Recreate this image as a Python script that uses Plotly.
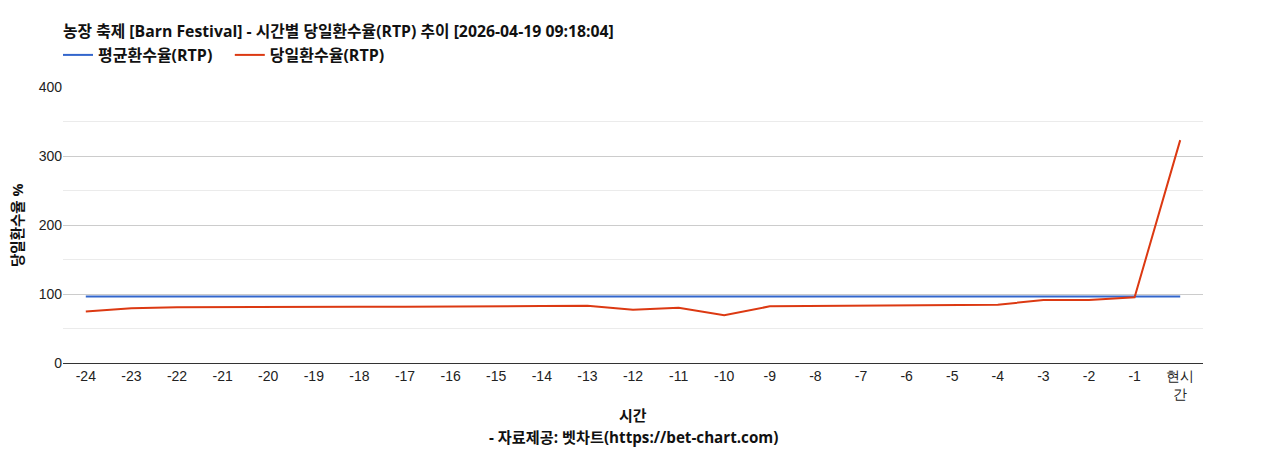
import plotly.graph_objects as go

# 시간 구간 (x축 라벨)
hours = ["-24", "-23", "-22", "-21", "-20", "-19", "-18", "-17", "-16", "-15",
         "-14", "-13", "-12", "-11", "-10", "-9", "-8", "-7", "-6", "-5",
         "-4", "-3", "-2", "-1", "현시<br>간"]

avg_rtp = [96.2] * 25
day_rtp = [74.5, 79.3, 80.8, 81.2, 81.6, 81.6, 81.6, 81.6, 81.6, 81.8,
           82.6, 83.0, 77.2, 80.1, 69.1, 82.1, 82.4, 83.0, 83.0, 83.4,
           84.5, 91.2, 91.4, 95.2, 323.0]

font_main = "Open Sans, Noto Sans CJK KR, Arial"
font_tick = "Liberation Sans, Arial"

fig = go.Figure()
fig.add_trace(go.Scatter(x=hours, y=avg_rtp, mode="lines",
                         name="<b>평균환수율(RTP)</b>&nbsp;&nbsp;&nbsp;",
                         line=dict(color="#3366cc", width=2)))
fig.add_trace(go.Scatter(x=hours, y=day_rtp, mode="lines", name="<b>당일환수율(RTP)</b>",
                         line=dict(color="#dc3912", width=2)))

# page body has an 8px margin, so margins are shifted to compensate
fig.update_layout(
    width=1268, height=450,
    paper_bgcolor="white", plot_bgcolor="white",
    margin=dict(l=55, r=73, t=79, b=95),
    font=dict(family=font_tick, size=14, color="#222222"),
    title=dict(text="<b>농장 축제 [Barn Festival] - 시간별 당일환수율(RTP) 추이 [2026-04-19 09:18:04]</b>",
               x=55 / 1268, xanchor="left", y=1 - 23 / 450, yanchor="middle",
               font=dict(family=font_main, size=15.8, color="#111111")),
    legend=dict(orientation="h", x=-5 / 1140, xanchor="left",
                y=1 + 32 / 276, yanchor="middle",
                font=dict(family=font_main, size=16, color="#111111"),
                traceorder="normal"),
    showlegend=True,
    xaxis=dict(type="category", range=[-0.5, 24.5], showgrid=False,
               showline=True, linecolor="#333333", linewidth=1,
               ticks="", tickfont=dict(size=14, color="#222222")),
    yaxis=dict(range=[0, 400], dtick=100, showgrid=True, gridcolor="#cccccc",
               gridwidth=1, zeroline=False, showline=False, ticks="",
               tickfont=dict(size=14, color="#222222"),
               minor=dict(dtick=50, showgrid=True, gridcolor="#ebebeb")),
    annotations=[
        dict(text="<b>시간</b>", xref="paper", yref="paper", x=0.5, y=-52 / 276,
             xanchor="center", yanchor="middle", showarrow=False,
             font=dict(family=font_main, size=15, color="#111111")),
        dict(text="<b>- 자료제공: 벳차트(https://bet-chart.com)</b>", xref="paper", yref="paper",
             x=0.5, y=-74 / 276, xanchor="center", yanchor="middle", showarrow=False,
             font=dict(family=font_main, size=15.2, color="#111111")),
        dict(text="<b>당일환수율 %</b>", xref="paper", yref="paper", x=-46 / 1140, y=0.5,
             xanchor="center", yanchor="middle", textangle=-90, showarrow=False,
             font=dict(family=font_main, size=14.5, color="#111111")),
    ],
)

fig.write_html("out.html")
